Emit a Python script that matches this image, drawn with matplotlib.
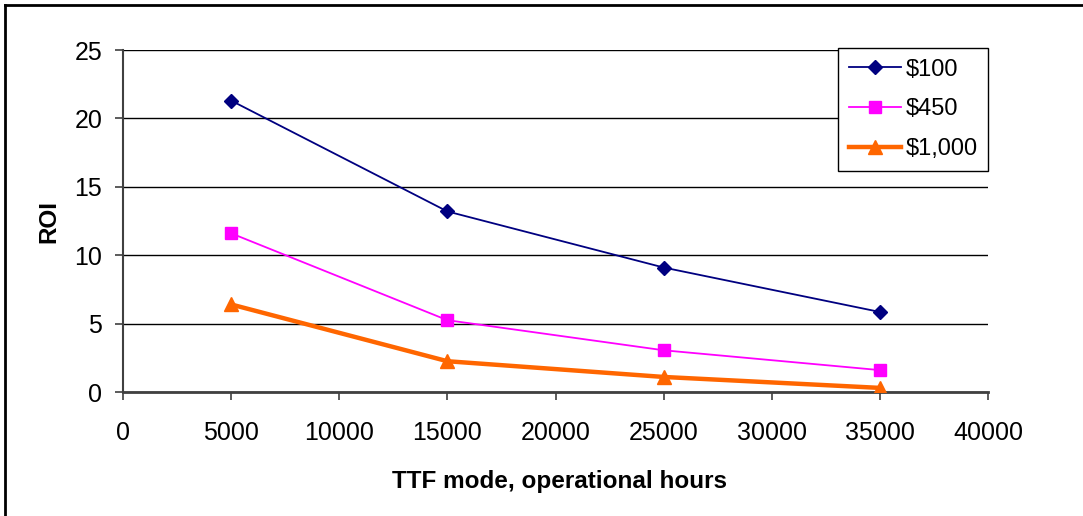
import matplotlib.pyplot as plt
from matplotlib.lines import Line2D

plt.rcParams['font.family'] = ['Liberation Sans', 'DejaVu Sans']

# TTF mode (operational hours) and ROI for each sensor price
hours = [5000, 15000, 25000, 35000]
roi_100 = [21.3, 13.2, 9.1, 5.85]
roi_450 = [11.6, 5.25, 3.05, 1.6]
roi_1000 = [6.4, 2.25, 1.1, 0.3]
labels = ['$100', '$450', '$1,000']

fig = plt.figure(figsize=(10.83, 5.16), dpi=100)
ax = fig.add_axes([0.1136, 0.2403, 0.7987, 0.6628])

ax.plot(hours, roi_100, color='#000080', lw=1.3, marker='D', ms=7, label=labels[0], zorder=5)
ax.plot(hours, roi_450, color='#FF00FF', lw=1.3, marker='s', ms=8, label=labels[1], zorder=5)
ax.plot(hours, roi_1000, color='#FF6600', lw=3.2, marker='^', ms=10, label=labels[2], zorder=5)

ax.set_xlim(0, 40000)
ax.set_ylim(0, 25)
ax.set_xticks(range(0, 40001, 5000))
ax.set_yticks(range(0, 26, 5))
ax.yaxis.grid(True, color='#000000', lw=1.0)
ax.set_axisbelow(True)

for s in ['top', 'right']:
    ax.spines[s].set_visible(False)
ax.spines['left'].set_color('#404040')
ax.spines['bottom'].set_color('#404040')
ax.spines['left'].set_linewidth(1.5)
ax.spines['bottom'].set_linewidth(2.0)
ax.tick_params(axis='both', labelsize=18, length=6, width=1.2, color='#404040')
ax.tick_params(axis='x', pad=15)
ax.tick_params(axis='y', pad=9)

ax.set_xlabel('TTF mode, operational hours', fontsize=17.5, fontweight='bold')
ax.set_ylabel('ROI', fontsize=17.5, fontweight='bold')
ax.xaxis.set_label_coords(0.505, -0.228)
ax.yaxis.set_label_coords(-0.072, 0.5)

leg = ax.legend(loc='upper right', bbox_to_anchor=(1.0, 1.006), fontsize=17,
                frameon=True, fancybox=False, edgecolor='black', framealpha=1,
                handlelength=2.2, borderpad=0.45, labelspacing=0.75, handletextpad=0.2,
                borderaxespad=0.0)
leg.get_frame().set_linewidth(1.0)

# outer border of the chart area
fig.add_artist(Line2D([5 / 1083, 5 / 1083], [0, 1 - 5 / 516], transform=fig.transFigure,
                      color='black', lw=2))
fig.add_artist(Line2D([5 / 1083, 1], [1 - 5 / 516, 1 - 5 / 516], transform=fig.transFigure,
                      color='black', lw=2))

fig.savefig('out.png', dpi=100)
